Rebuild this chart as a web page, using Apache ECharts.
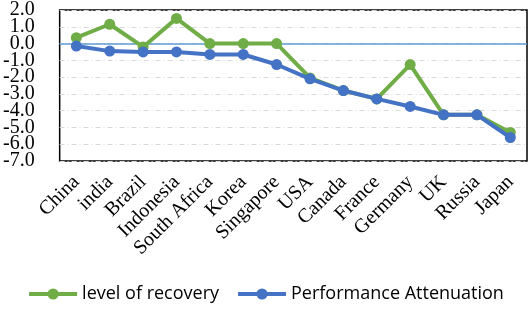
<!DOCTYPE html>
<html>
<head>
<meta charset="utf-8">
<script src="https://cdn.jsdelivr.net/npm/echarts@6/dist/echarts.min.js"></script>
<style>
  html, body { margin: 0; padding: 0; background: #fff; }
  #chart { width: 531px; height: 314px; }
</style>
</head>
<body>
<div id="chart"></div>
<script>
const countries = ['China', 'india', 'Brazil', 'Indonesia', 'South Africa', 'Korea', 'Singapore',
  'USA', 'Canada', 'France', 'Germany', 'UK', 'Russia', 'Japan']
const recovery = [0.35, 1.15, -0.2, 1.5, 0.0, 0.0, 0.0, -2.05, -2.8, -3.3, -1.25, -4.25, -4.25, -5.3]
const attenuation = [-0.15, -0.45, -0.5, -0.5, -0.65, -0.65, -1.25, -2.1, -2.8, -3.3, -3.75, -4.25, -4.25, -5.6]
// tick labels split in two sets so the tight labels aren't dropped as overlapping
const ticksOdd = [-7, -5, -3, -1, 1]
const ticksEven = [-6, -4, -2, 0, 2]
const zeroLine = 0

const chart = echarts.init(document.getElementById('chart'))

const serif = '"Liberation Serif", "Times New Roman", serif'

function yAxisWith(values, showGrid) {
  return {
    type: 'value',
    min: -7,
    max: 2,
    interval: 1,
    position: 'left',
    axisLine: { show: false },
    axisTick: { show: false },
    axisLabel: {
      customValues: values,
      formatter: v => v.toFixed(1),
      margin: 25,
      showMinLabel: true,
      showMaxLabel: true,
      fontFamily: serif,
      fontSize: 20,
      color: '#000'
    },
    splitLine: { show: showGrid, lineStyle: { color: '#d9d9d9', width: 1, type: [5, 3, 1, 3] } }
  }
}

chart.setOption({
  animation: false,
  grid: {
    left: 58,
    right: 4,
    top: 10,
    height: 151,
    show: true,
    borderColor: '#000',
    borderWidth: 1.5,
    backgroundColor: 'transparent'
  },
  legend: {
    bottom: 6,
    left: 'center',
    itemWidth: 48,
    itemHeight: 14,
    itemGap: 17,
    lineStyle: { width: 4 },
    textStyle: { fontFamily: '"Open Sans", "Liberation Sans", sans-serif', fontSize: 18, color: '#000' },
    data: ['level of recovery', 'Performance Attenuation']
  },
  xAxis: {
    type: 'category',
    data: countries,
    boundaryGap: true,
    axisLine: { show: false },
    axisTick: { show: false },
    axisLabel: {
      rotate: 45,
      interval: 0,
      hideOverlap: false,
      margin: 18,
      fontFamily: serif,
      fontSize: 20,
      color: '#000'
    }
  },
  yAxis: [yAxisWith(ticksOdd, true), yAxisWith(ticksEven, false)],
  series: [
    {
      name: 'level of recovery',
      type: 'line',
      data: recovery,
      symbol: 'circle',
      symbolSize: 11,
      color: '#70ad47',
      lineStyle: { width: 4, color: '#70ad47' },
      itemStyle: { color: '#70ad47' },
      z: 2,
      markLine: {
        silent: true,
        symbol: 'none',
        label: { show: false },
        lineStyle: { color: '#5b9bd5', width: 1.5, type: 'solid' },
        data: [{ yAxis: zeroLine }],
        z: 1
      }
    },
    {
      name: 'Performance Attenuation',
      type: 'line',
      data: attenuation,
      symbol: 'circle',
      symbolSize: 11,
      color: '#4472c4',
      lineStyle: { width: 4, color: '#4472c4' },
      itemStyle: { color: '#4472c4' },
      z: 3
    }
  ]
})
</script>
</body>
</html>
